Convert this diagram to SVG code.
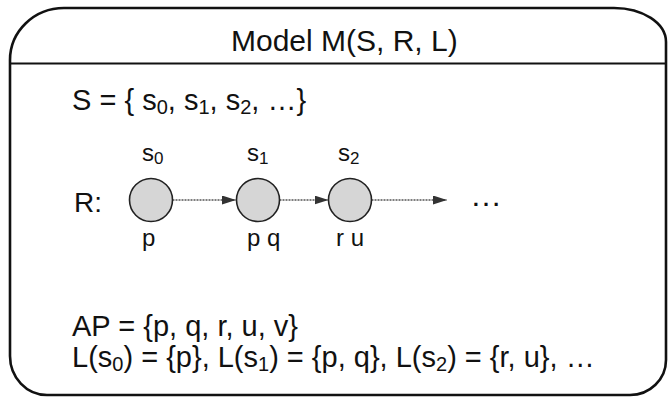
<svg xmlns="http://www.w3.org/2000/svg" width="669" height="401" viewBox="0 0 669 401">
<defs>
<style>
.t{font-family:"Liberation Sans",Arial,Helvetica,sans-serif;fill:#111}
.big{font-size:29px}
.mid{font-size:24px}
.node{fill:#d6d6d6;stroke:#222;stroke-width:1.6}
.edge{stroke:#555;stroke-width:1.3;stroke-dasharray:2 1;fill:none}
.frame{fill:#fff;stroke:#111;stroke-width:2.6}
</style>
<marker id="ah" viewBox="0 0 14 9" refX="14" refY="4.5" markerWidth="14" markerHeight="9" markerUnits="userSpaceOnUse" orient="auto">
<path d="M0,0 L14,4.5 L0,9 Z" fill="#333"/>
</marker>
</defs>
<rect width="669" height="401" fill="#fff"/>
<g id="frame">
<path class="frame" d="M10,60 A54,52 0 0 1 64,8 L614,8 A52,34 0 0 1 666,42 L666,360 A36,35 0 0 1 630,395 L47,395 A37,39 0 0 1 10,356 Z"/>
<line x1="10" y1="63.5" x2="666" y2="63.5" stroke="#111" stroke-width="2"/>
<text class="t" x="231" y="51" font-size="30">Model M(S, R, L)</text>
</g>
<g id="states-set">
<text class="t big" x="72" y="110">S = { s<tspan font-size="20" dy="4">0</tspan><tspan dy="-4">, s</tspan><tspan font-size="20" dy="4">1</tspan><tspan dy="-4">, s</tspan><tspan font-size="20" dy="4">2</tspan><tspan dy="-4">, …}</tspan></text>
</g>
<text class="t" x="74" y="212" font-size="28">R:</text>
<g id="connectors">
<line class="edge" x1="172.5" y1="200" x2="236" y2="200" marker-end="url(#ah)"/>
<line class="edge" x1="279.5" y1="200" x2="328.5" y2="200" marker-end="url(#ah)"/>
<line class="edge" x1="371.5" y1="200" x2="447" y2="200" marker-end="url(#ah)"/>
</g>
<g id="s0">
<circle class="node" cx="151" cy="200" r="21.5"/>
<text class="t mid" x="142" y="161">s<tspan font-size="17" dy="3">0</tspan></text>
<text class="t mid" x="142" y="246">p</text>
</g>
<g id="s1">
<circle class="node" cx="258" cy="200" r="21.5"/>
<text class="t mid" x="247" y="161">s<tspan font-size="17" dy="3">1</tspan></text>
<text class="t mid" x="247" y="246">p q</text>
</g>
<g id="s2">
<circle class="node" cx="350" cy="200" r="21.5"/>
<text class="t mid" x="338" y="161">s<tspan font-size="17" dy="3">2</tspan></text>
<text class="t mid" x="336" y="246">r u</text>
</g>
<text class="t" x="470" y="206" font-size="32">…</text>
<g id="labels">
<text class="t big" x="72" y="336">AP = {p, q, r, u, v}</text>
<text class="t big" x="72" y="367">L(s<tspan font-size="20" dy="4">0</tspan><tspan dy="-4">) = {p}, L(s</tspan><tspan font-size="20" dy="4">1</tspan><tspan dy="-4">) = {p, q},  L(s</tspan><tspan font-size="20" dy="4">2</tspan><tspan dy="-4">) = {r, u}, …</tspan></text>
</g>
</svg>
